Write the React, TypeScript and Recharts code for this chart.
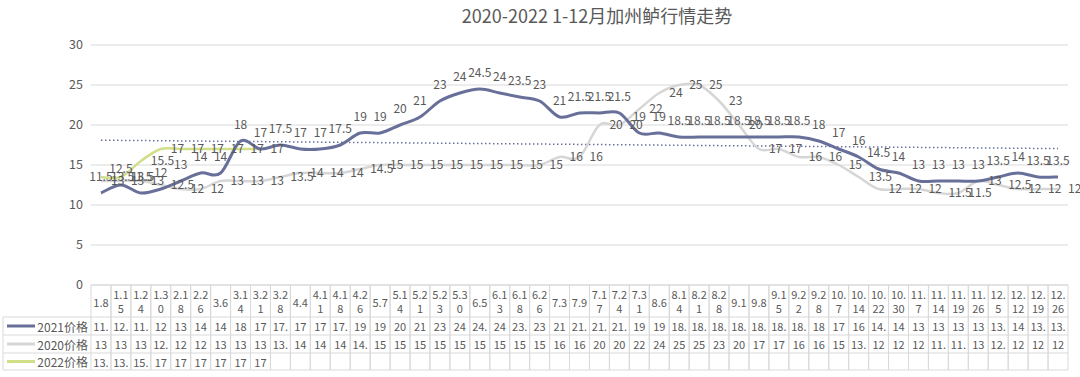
import React from "react";
import {
  LineChart,
  Line,
  XAxis,
  YAxis,
  CartesianGrid,
  LabelList,
  ReferenceLine,
} from "recharts";

// weekly quote dates (month.day)
const categories = [
  "1.8", "1.15", "1.24", "1.30", "2.18", "2.26", "3.6", "3.14", "3.21", "3.28",
  "4.4", "4.11", "4.18", "4.26", "5.7", "5.14", "5.21", "5.23", "5.30", "6.5",
  "6.13", "6.18", "6.26", "7.3", "7.9", "7.17", "7.24", "7.31", "8.6", "8.14",
  "8.21", "8.28", "9.1", "9.8", "9.15", "9.22", "9.28", "10.7", "10.14", "10.22",
  "10.30", "11.7", "11.14", "11.19", "11.26", "12.5", "12.12", "12.19", "12.26",
];

const price2021 = [
  11.5, 12.5, 11.5, 12, 13, 14, 14, 18, 17, 17.5,
  17, 17, 17.5, 19, 19, 20, 21, 23, 24, 24.5,
  24, 23.5, 23, 21, 21.5, 21.5, 21.5, 19, 19, 18.5,
  18.5, 18.5, 18.5, 18.5, 18.5, 18.5, 18, 17, 16, 14.5,
  14, 13, 13, 13, 13, 13.5, 14, 13.5, 13.5,
];

const price2020 = [
  13, 13, 13, 12.5, 12, 12, 13, 13, 13, 13.5,
  14, 14, 14, 14.5, 15, 15, 15, 15, 15, 15,
  15, 15, 15, 16, 16, 20, 20, 22, 24, 25,
  25, 23, 20, 17, 17, 16, 16, 15, 13.5, 12,
  12, 12, 11.5, 11.5, 13, 12.5, 12, 12, 12,
];

// 2022 only has the first weeks so far
const price2022 = [13.5, 13.5, 15.5, 17, 17, 17, 17, 17, 17];

// dotted linear trend of 2021 (start, end)
const trend2021 = [18.1, 17.05];

const yTicks = [0, 5, 10, 15, 20, 25, 30];

const C2021 = "#68709a";
const C2020 = "#d6d6d6";
const C2022 = "#d0df88";
const TEXT = "#595959";
const BORDER = "#d9d9d9";
const FONT = "'Noto Sans CJK SC', 'Noto Sans', sans-serif";

const series = [
  { name: "2021价格", color: C2021, values: price2021 },
  { name: "2020价格", color: C2020, values: price2020 },
  { name: "2022价格", color: C2022, values: price2022 },
];

const data = categories.map((cat, i) => ({
  cat,
  y2021: price2021[i] ?? null,
  y2020: price2020[i] ?? null,
  y2022: price2022[i] ?? null,
}));

const W = 1080;
const H = 377;
const LEFT = 91;
const RIGHT = 12;
const COL_W = (W - LEFT - RIGHT) / categories.length;
const ROWS = [0, 32, 50, 68, 85]; // table row lines, from the axis down

// excel-like smoothed line (catmull-rom through every point)
const smoothCurve = (context: any) => {
  let pts: number[][] = [];
  return {
    areaStart() {},
    areaEnd() {},
    lineStart() {
      pts = [];
    },
    point(x: number, y: number) {
      pts.push([+x, +y]);
    },
    lineEnd() {
      if (!pts.length) return;
      context.moveTo(pts[0][0], pts[0][1]);
      for (let i = 0; i < pts.length - 1; i++) {
        const p0 = pts[i - 1] || pts[i];
        const p1 = pts[i];
        const p2 = pts[i + 1];
        const p3 = pts[i + 2] || p2;
        context.bezierCurveTo(
          p1[0] + (p2[0] - p0[0]) / 6,
          p1[1] + (p2[1] - p0[1]) / 6,
          p2[0] - (p3[0] - p1[0]) / 6,
          p2[1] - (p3[1] - p1[1]) / 6,
          p2[0],
          p2[1]
        );
      }
    },
  };
};

const cut = (v: number | null | undefined) =>
  v == null ? "" : String(v).slice(0, 3);

const TableTick = (props: any) => {
  const { x, y, payload } = props;
  const i = payload.index;
  const hw = COL_W / 2;
  const label: string = categories[i];
  const bottom = y + ROWS[ROWS.length - 1];

  return (
    <g fontFamily={FONT}>
      {i === 0 && (
        <g>
          <line x1={3} x2={x - hw} y1={bottom} y2={bottom} stroke={BORDER} />
          <line x1={3} x2={3} y1={y + ROWS[1]} y2={bottom} stroke={BORDER} />
          {series.map((s, r) => {
            const cy = y + (ROWS[r + 1] + ROWS[r + 2]) / 2;
            return (
              <g key={s.name}>
                <line x1={3} x2={x - hw} y1={y + ROWS[r + 1]} y2={y + ROWS[r + 1]} stroke={BORDER} />
                <line x1={7} x2={35} y1={cy} y2={cy} stroke={s.color} strokeWidth={3} />
                <text x={88} y={cy} textAnchor="end" dominantBaseline="central" fontSize={12} fill={TEXT}>
                  {s.name}
                </text>
              </g>
            );
          })}
        </g>
      )}
      {ROWS.map((r) => (
        <line key={r} x1={x - hw} x2={x + hw} y1={y + r} y2={y + r} stroke={BORDER} />
      ))}
      <line x1={x - hw} x2={x - hw} y1={y} y2={bottom} stroke={BORDER} />
      <line x1={x + hw} x2={x + hw} y1={y} y2={bottom} stroke={BORDER} />
      {label.length <= 3 ? (
        <text x={x} y={y + 16.5} textAnchor="middle" dominantBaseline="central" fontSize={11} fill={TEXT}>
          {label}
        </text>
      ) : (
        <g>
          <text x={x} y={y + 8.5} textAnchor="middle" dominantBaseline="central" fontSize={11} fill={TEXT}>
            {label.slice(0, 3)}
          </text>
          <text x={x} y={y + 22.5} textAnchor="middle" dominantBaseline="central" fontSize={11} fill={TEXT}>
            {label.slice(3)}
          </text>
        </g>
      )}
      {series.map((s, r) => (
        <text
          key={s.name}
          x={x}
          y={y + (ROWS[r + 1] + ROWS[r + 2]) / 2}
          textAnchor="middle"
          dominantBaseline="central"
          fontSize={11}
          fill={TEXT}
        >
          {cut(s.values[i])}
        </text>
      ))}
    </g>
  );
};

const fmt = (v: any) => (v == null ? "" : v);

export default function App() {
  return (
    <div style={{ position: "absolute", left: 0, top: 0, width: W, height: H, background: "#fff", fontFamily: FONT }}>
      <div
        style={{
          position: "absolute",
          left: 597,
          top: 2,
          transform: "translateX(-50%)",
          whiteSpace: "nowrap",
          fontSize: 18,
          color: TEXT,
        }}
      >
        2020-2022 1-12月加州鲈行情走势
      </div>
      <LineChart
        width={W}
        height={H}
        data={data}
        margin={{ top: 45, right: RIGHT, bottom: 0, left: 0 }}
      >
        <CartesianGrid vertical={false} stroke={BORDER} />
        <XAxis
          dataKey="cat"
          height={H - 285}
          interval={0}
          axisLine={false}
          tickLine={false}
          tickSize={0}
          tickMargin={0}
          padding={{ left: COL_W / 2, right: COL_W / 2 }}
          tick={(p: any) => <TableTick {...p} />}
        />
        <YAxis
          width={LEFT}
          domain={[0, 30]}
          ticks={yTicks}
          axisLine={false}
          tickLine={false}
          tick={{ fill: TEXT, fontSize: 12.5, fontFamily: FONT }}
        />
        <ReferenceLine
          segment={[
            { x: categories[0], y: trend2021[0] },
            { x: categories[categories.length - 1], y: trend2021[1] },
          ]}
          stroke={C2021}
          strokeWidth={1.5}
          strokeDasharray="1.5 2.5"
          ifOverflow="visible"
        />
        <Line
          type={smoothCurve as any}
          dataKey="y2020"
          stroke={C2020}
          strokeWidth={2.5}
          dot={false}
          isAnimationActive={false}
        >
          <LabelList dataKey="y2020" position="right" offset={10} fontSize={12} fill={TEXT} fontFamily={FONT} formatter={fmt} />
        </Line>
        <Line
          type={smoothCurve as any}
          dataKey="y2022"
          stroke={C2022}
          strokeWidth={2.5}
          dot={false}
          isAnimationActive={false}
        >
          <LabelList dataKey="y2022" position="right" offset={10} fontSize={12} fill={TEXT} fontFamily={FONT} formatter={fmt} />
        </Line>
        <Line
          type={smoothCurve as any}
          dataKey="y2021"
          stroke={C2021}
          strokeWidth={3}
          dot={false}
          isAnimationActive={false}
        >
          <LabelList dataKey="y2021" position="top" offset={12} fontSize={12} fill={TEXT} fontFamily={FONT} formatter={fmt} />
        </Line>
      </LineChart>
    </div>
  );
}
